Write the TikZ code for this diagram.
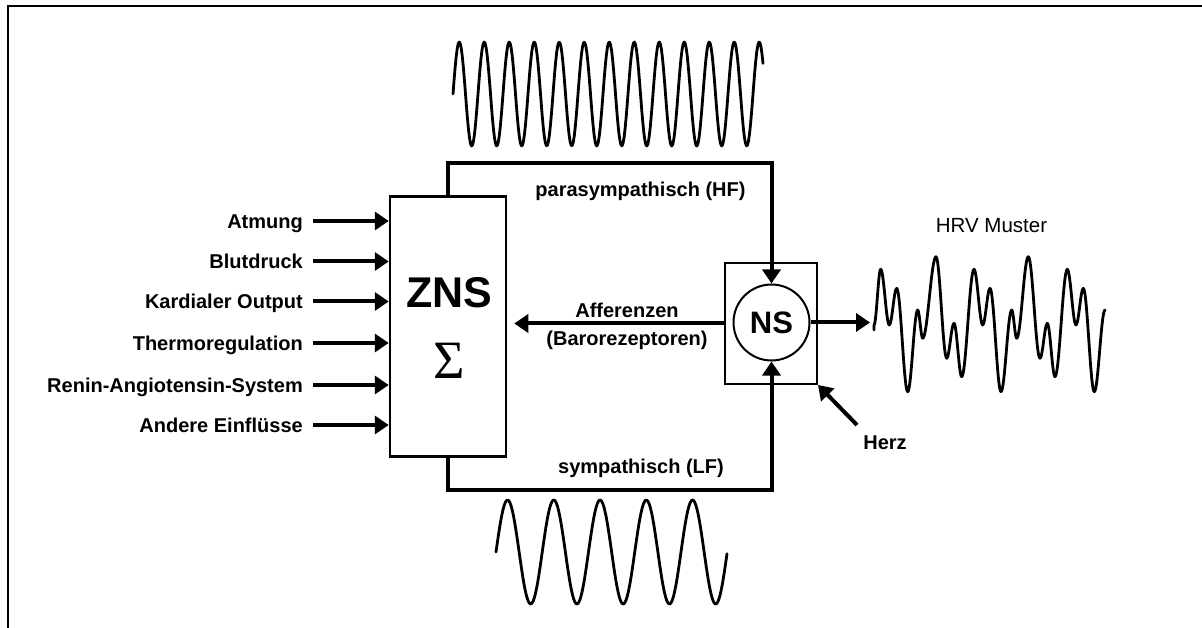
\documentclass[tikz,border=0pt]{standalone}
\usepackage{fontspec}
\setmainfont{Liberation Sans}
\newfontfamily\serifsig{Liberation Serif}
\usetikzlibrary{arrows.meta,calc}
\tikzset{
  block/.style={draw=black,line width=2.5pt,fill=white,inner sep=0pt},    % ZNS box
  heartbox/.style={draw=black,line width=2pt,inner sep=0pt},             % Herz frame
  nsnode/.style={circle,draw=black,line width=2pt,fill=white,inner sep=0pt,minimum size=76pt},
  lab/.style={font=\bfseries\fontsize{20}{23}\selectfont,text height=14.2pt,text depth=0pt,inner sep=0pt},
  labthin/.style={font=\fontsize{20.5}{23}\selectfont,text height=14.5pt,text depth=0pt,inner sep=0pt},
  arr/.style={-{Triangle[length=14pt,width=18pt]},line width=4pt},
  loopline/.style={line width=4pt},
  wave/.style={line width=2.8pt,line join=round,line cap=round},
  frame/.style={line width=2pt},
}
\begin{document}
\begin{tikzpicture}[x=1pt,y=-1pt]
  \useasboundingbox (0,0) rectangle (1202,628);
  \draw[frame] (7.5,628) -- (7.5,6) -- (1202,6);

  % blocks
  \node[block,minimum width=116pt,minimum height=260pt] (zns) at (448,326.5) {};
  \node[font=\bfseries\fontsize{43}{46}\selectfont,text height=30pt,text depth=0pt,inner sep=0pt] (znslab) at (449,292.5) {ZNS};
  \node[font=\serifsig\fontsize{54}{56}\selectfont,text height=36pt,text depth=0pt,inner sep=0pt] (sum) at (449,360) {Σ};
  \node[heartbox,minimum width=92pt,minimum height=121pt] (heart) at (771,323.5) {};
  \node[nsnode,font=\bfseries\fontsize{31}{34}\selectfont] (ns) at (771.5,322.5) {NS};

  % inputs
  \foreach \txt/\yy [count=\i] in {Atmung/221,Blutdruck/261.5,Kardialer Output/301.5,
      Thermoregulation/343,Renin-Angiotensin-System/385,Andere Einflüsse/425}{
    \node[lab,anchor=east] (in\i) at (303,\yy) {\txt};
    \draw[arr,shorten <=10pt] (in\i.east) -- (in\i.east -| zns.west);
  }

  % efferent loops
  \draw[loopline,-{Triangle[length=14pt,width=18pt]}] (zns.north) -- ++(0,-32) -| (ns.north);
  \draw[loopline,-{Triangle[length=14pt,width=18pt]}] (zns.south) -- ++(0,32) -| (ns.south);
  \node[lab] (para) at (640.5,189) {parasympathisch (HF)};
  \node[lab] (sym) at (641,466) {sympathisch (LF)};

  % afferent path
  \draw[arr,shorten >=7pt] (heart.west) -- (heart.west -| zns.east);
  \node[lab] (aff) at (627,310.5) {Afferenzen};
  \node[lab] (baro) at (627,338.5) {(Barorezeptoren)};

  % output
  \coordinate (hrvin) at (870,322.5);
  \draw[arr] (ns.east) -- (hrvin);
  \node[labthin] (hrv) at (991.5,225) {HRV Muster};
  \node[lab] (herz) at (885,442.5) {Herz};
  \coordinate (herzfrom) at (857,425);
  \draw[arr] (herzfrom) -- (heart.south east);

  % waves
  \draw[wave] plot[domain=453:763,samples=300] (\x,{94-52*sin(14.4*(\x-453))});
  \draw[wave] plot[domain=496:727,samples=200] (\x,{552-52*sin(7.7838*(\x-496))});
  \draw[wave] (874,330) -- (874,325)
    \foreach \px/\py [remember=\px as \lx (initially 874)] in {880.7/269.3,889.3/325,
      896.7/288.3,907.7/391.7,917.7/310,922.7/338.3,936/256.7,946.7/358.3,954/323.3,
      961.7/376.7,974/269.3,982.7/325,990/288.3,1001/391.7,1011.7/310,1016.7/338.3,
      1028.3/256.7,1040/358.3,1047.3/323.3,1055/376.7,1067.3/269.3,1076/325,
      1083.3/288.3,1094.3/391.7,1105/310}
    { .. controls +({0.36*(\px-\lx)},0) and +({-0.36*(\px-\lx)},0) .. (\px,\py) };
\end{tikzpicture}
\end{document}
